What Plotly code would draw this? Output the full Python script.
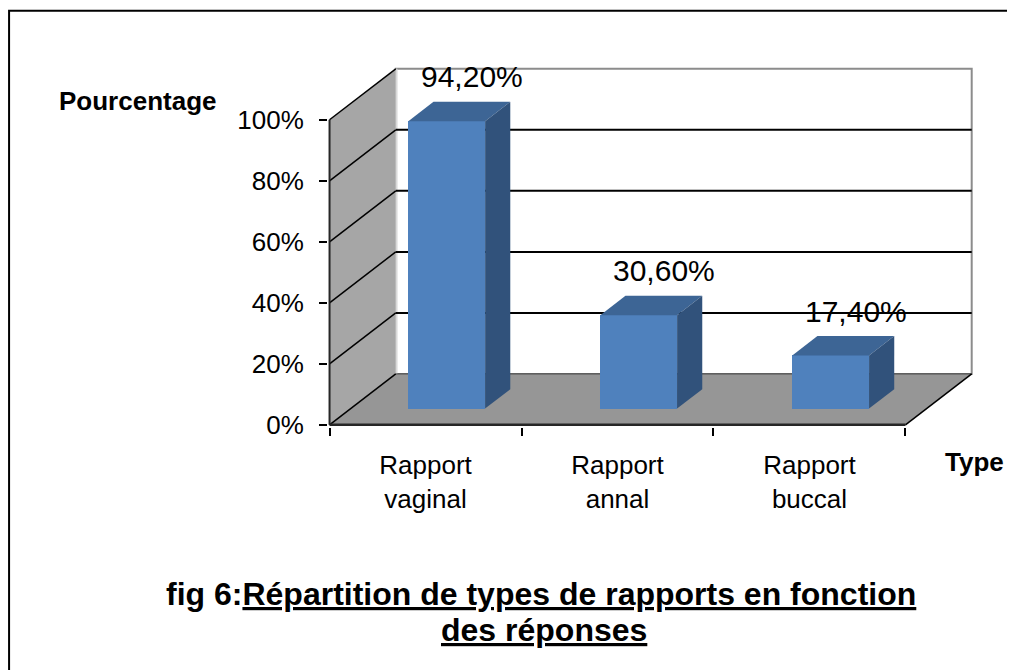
import plotly.graph_objects as go

# ---------------- data ----------------
categories = ["Rapport<br>vaginal", "Rapport<br>annal", "Rapport<br>buccal"]
values = [94.2, 30.6, 17.4]
value_labels = ["94,20%", "30,60%", "17,40%"]
y_tick_values = [0, 20, 40, 60, 80, 100]
y_tick_labels = ["0%", "20%", "40%", "60%", "80%", "100%"]
y_title = "Pourcentage"
x_title = "Type"
title_prefix = "fig 6:"
title_line1 = "Répartition de types de rapports en fonction"
title_line2 = "des réponses"

# ---------------- style / geometry ----------------
OFF = 8                      # page body margin of the html page
W, H = 1015 - OFF, 670 - OFF
FONT = "Liberation Sans, Arial, sans-serif"
DX = 0.345        # depth shift in category units
DY = 16.7         # depth shift in percent units
BAR_W = 0.40
BAR_FRONT = 0.32
BAR_BACK = 0.70
C_FRONT = "#4F81BD"
C_TOP = "#3D6595"
C_SIDE = "#31527B"
C_WALL = "#A6A6A6"
C_FLOOR = "#969696"

n = len(values)
x_left, x_right = -0.5, n - 0.5
y_max = y_tick_values[-1]

PX_X = 191.7      # px per category unit
PX_Y = 3.05       # px per percent
xr = [x_left - 0.008, x_right + DX + 0.012]
yr = [-0.7, y_max + DY + 0.6]
PW = (xr[1] - xr[0]) * PX_X
PH = (yr[1] - yr[0]) * PX_Y
ML = (330 - OFF) - 0.008 * PX_X
MB = H - ((425 - OFF) + 0.7 * PX_Y)
MT = H - MB - PH
MR = W - ML - PW


def px_x(p):
    return (p - OFF - ML) / PW


def px_y(p):
    return (H - MB - (p - OFF)) / PH


fig = go.Figure()

# front faces of bars
fig.add_trace(go.Bar(
    x=[i + DX * BAR_FRONT for i in range(n)],
    y=values,
    base=DY * BAR_FRONT,
    width=BAR_W,
    marker=dict(color=C_FRONT, line=dict(width=0)),
    hoverinfo="skip",
    showlegend=False,
))

# top and side faces
for i, v in enumerate(values):
    x0 = i - BAR_W / 2
    x1 = i + BAR_W / 2
    f, b = BAR_FRONT, BAR_BACK
    top_x = [x0 + DX * f, x1 + DX * f, x1 + DX * b, x0 + DX * b, x0 + DX * f]
    top_y = [v + DY * f, v + DY * f, v + DY * b, v + DY * b, v + DY * f]
    fig.add_trace(go.Scatter(x=top_x, y=top_y, mode="lines", fill="toself",
                             fillcolor=C_TOP, line=dict(width=0, color=C_TOP),
                             hoverinfo="skip", showlegend=False))
    side_x = [x1 + DX * f, x1 + DX * b, x1 + DX * b, x1 + DX * f, x1 + DX * f]
    side_y = [DY * f, DY * b, v + DY * b, v + DY * f, DY * f]
    fig.add_trace(go.Scatter(x=side_x, y=side_y, mode="lines", fill="toself",
                             fillcolor=C_SIDE, line=dict(width=0, color=C_SIDE),
                             hoverinfo="skip", showlegend=False))

shapes = []
# back wall
shapes.append(dict(type="rect", xref="x", yref="y", layer="below",
                   x0=x_left + DX, x1=x_right + DX, y0=DY, y1=y_max + DY,
                   fillcolor="white", line=dict(color="#8C8C8C", width=2)))
# left wall
shapes.append(dict(type="path", xref="x", yref="y", layer="below",
                   path=f"M {x_left},0 L {x_left + DX},{DY} L {x_left + DX},{y_max + DY} L {x_left},{y_max} Z",
                   fillcolor=C_WALL, line=dict(width=0)))
# light seam between left wall and back wall
shapes.append(dict(type="line", xref="x", yref="y", layer="below",
                   x0=x_left + DX + 0.004, x1=x_left + DX + 0.004, y0=DY, y1=y_max + DY,
                   line=dict(color="#D9D9D9", width=2)))
# floor
shapes.append(dict(type="path", xref="x", yref="y", layer="below",
                   path=f"M {x_left},0 L {x_right},0 L {x_right + DX},{DY} L {x_left + DX},{DY} Z",
                   fillcolor=C_FLOOR, line=dict(width=0)))
shapes.append(dict(type="line", xref="x", yref="y", layer="below",
                   x0=x_left + DX, x1=x_right + DX, y0=DY, y1=DY,
                   line=dict(color="#404040", width=1)))
# gridlines on back wall and left wall
for v in y_tick_values:
    if 0 < v < y_max:
        shapes.append(dict(type="line", xref="x", yref="y", layer="below",
                           x0=x_left + DX, x1=x_right + DX, y0=v + DY, y1=v + DY,
                           line=dict(color="black", width=2)))
    shapes.append(dict(type="line", xref="x", yref="y", layer="below",
                       x0=x_left, x1=x_left + DX, y0=v, y1=v + DY,
                       line=dict(color="black", width=1.5)))
# floor right edge
shapes.append(dict(type="line", xref="x", yref="y", layer="below",
                   x0=x_right, x1=x_right + DX, y0=0, y1=DY,
                   line=dict(color="black", width=1.5)))
# axis lines
shapes.append(dict(type="line", xref="x", yref="y", layer="below",
                   x0=x_left, x1=x_right, y0=0, y1=0,
                   line=dict(color="#262626", width=2.5)))
shapes.append(dict(type="line", xref="x", yref="y", layer="below",
                   x0=x_left, x1=x_left, y0=0, y1=y_max,
                   line=dict(color="#262626", width=2)))
# outer frame
shapes.append(dict(type="rect", xref="paper", yref="paper", layer="above",
                   x0=px_x(10), x1=px_x(1040), y0=px_y(11), y1=px_y(700),
                   line=dict(color="black", width=2), fillcolor="rgba(0,0,0,0)"))

annotations = []
for i, (v, lab) in enumerate(zip(values, value_labels)):
    annotations.append(dict(x=i + DX * BAR_BACK, y=v + DY * BAR_BACK, xref="x", yref="y",
                            text=lab, showarrow=False, yanchor="middle", yshift=25,
                            font=dict(family=FONT, size=30, color="black")))
annotations.append(dict(x=px_x(58), y=px_y(101), xref="paper", yref="paper",
                        text=f"<b>{y_title}</b>", showarrow=False,
                        xanchor="left", yanchor="middle",
                        font=dict(family=FONT, size=26, color="black")))
annotations.append(dict(x=px_x(943), y=px_y(462), xref="paper", yref="paper",
                        text=f"<b>{x_title}</b>", showarrow=False,
                        xanchor="left", yanchor="middle",
                        font=dict(family=FONT, size=26, color="black")))
annotations.append(dict(x=px_x(541.5), y=px_y(594), xref="paper", yref="paper",
                        text=f"<b>{title_prefix}<u>{title_line1}</u></b>", showarrow=False,
                        xanchor="center", yanchor="middle",
                        font=dict(family=FONT, size=32, color="black")))
annotations.append(dict(x=px_x(544.5), y=px_y(630), xref="paper", yref="paper",
                        text=f"<b><u>{title_line2}</u></b>", showarrow=False,
                        xanchor="center", yanchor="middle",
                        font=dict(family=FONT, size=32, color="black")))

fig.update_layout(
    width=W, height=H,
    margin=dict(l=ML, r=MR, t=MT, b=MB, autoexpand=False),
    paper_bgcolor="white", plot_bgcolor="rgba(0,0,0,0)",
    showlegend=False,
    bargap=0,
    shapes=shapes,
    annotations=annotations,
    xaxis=dict(range=xr, showgrid=False, zeroline=False, showline=False,
               tickmode="array", tickvals=list(range(n)), ticktext=categories,
               ticks="", ticklabelstandoff=20,
               tickfont=dict(family=FONT, size=26, color="black"),
               minor=dict(tickmode="array", tickvals=[x_left + k for k in range(n + 1)],
                          ticks="outside", ticklen=8, tickwidth=1.5, tickcolor="black",
                          showgrid=False)),
    yaxis=dict(range=yr, showgrid=False, zeroline=False, showline=False,
               tickmode="array", tickvals=y_tick_values, ticktext=y_tick_labels,
               ticks="outside", ticklen=8, tickwidth=1.5, tickcolor="black",
               ticklabelstandoff=10,
               tickfont=dict(family=FONT, size=26, color="black")),
)

fig.write_html("out.html")
